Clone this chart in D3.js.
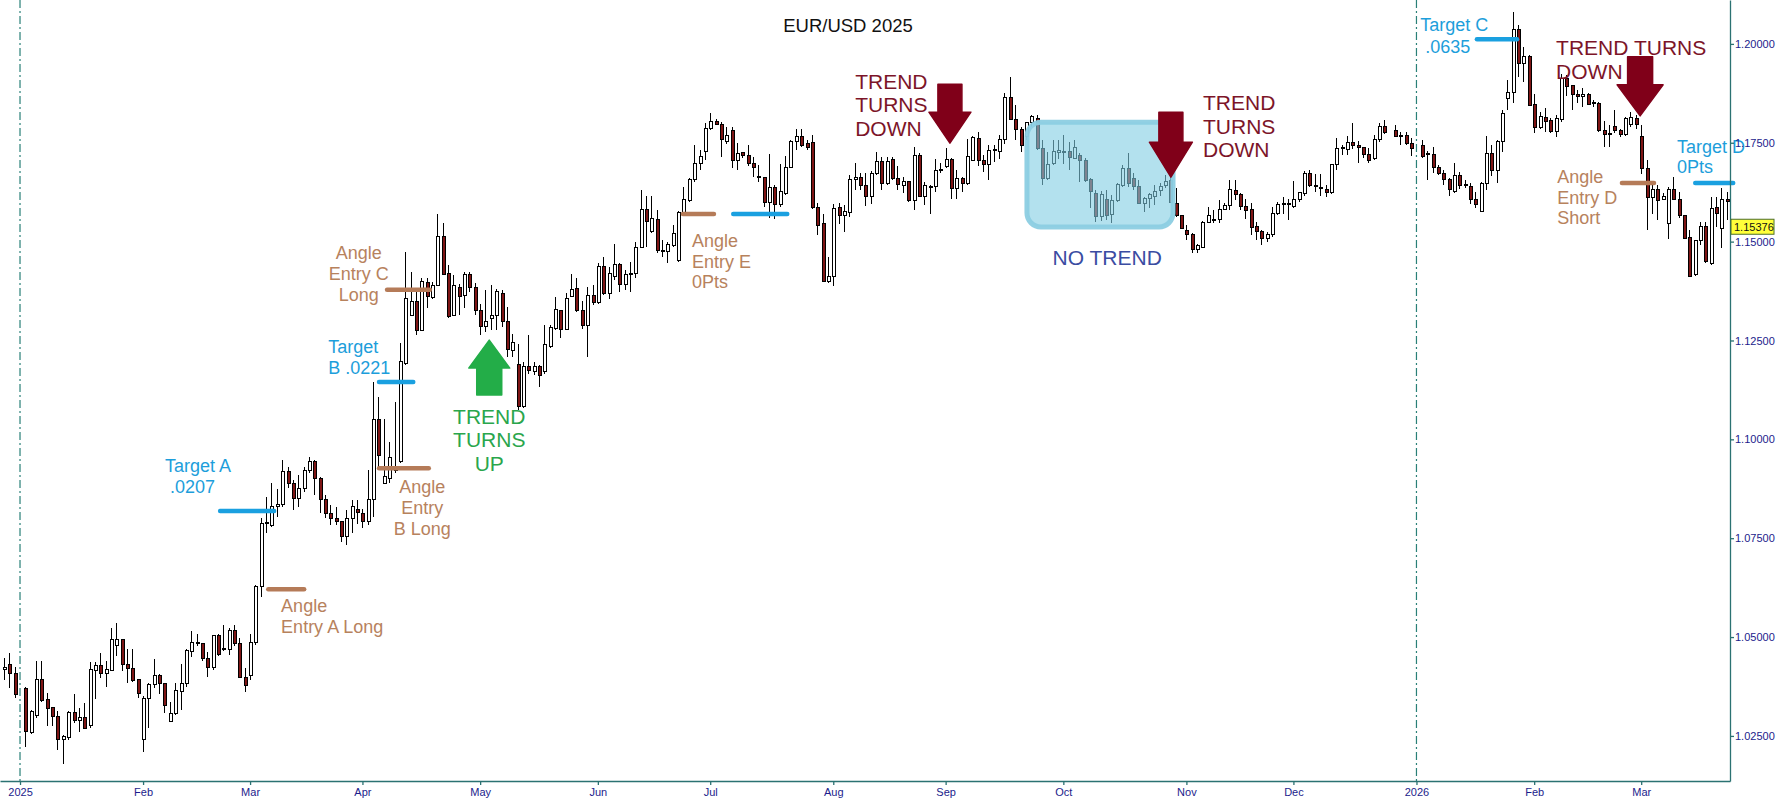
<!DOCTYPE html>
<html>
<head>
<meta charset="utf-8">
<title>EUR/USD 2025</title>
<script src="https://cdn.jsdelivr.net/npm/d3@7/dist/d3.min.js"></script>
<style>
  body { margin: 0; background: #fff; }
  text { font-family: "Liberation Sans", Arial, sans-serif; white-space: pre; }
</style>
</head>
<body>
<script>
// daily EUR/USD candles, one slot per weekday from 27 Dec 2024 to 24 Mar 2026 (null = no candle)
var opens = [1.0417,1.0430,1.0409,null,1.0371,1.0259,1.0302,1.0392,1.0341,1.0321,1.0300,1.0240,1.0247,
1.0310,1.0289,1.0297,1.0276,1.0415,1.0427,1.0409,1.0415,1.0479,1.0493,
1.0431,1.0421,1.0392,1.0242,1.0345,1.0381,1.0403,1.0383,1.0286,1.0307,
1.0362,1.0383,1.0463,1.0485,1.0484,1.0446,1.0423,1.0503,1.0468,1.0469,
1.0516,1.0484,1.0398,1.0402,1.0486,1.0627,1.0787,1.0783,1.0830,1.0834,
1.0918,1.0889,1.0851,1.0876,1.0922,1.0943,1.0901,1.0849,1.0813,1.0800,
1.0792,1.0754,1.0800,1.0823,1.0813,1.0792,1.0848,1.1050,1.0889,1.0901,
1.0924,1.0943,1.1192,1.1314,1.1348,1.1276,1.1397,1.1358,1.1390,1.1514,
1.1420,1.1314,1.1384,1.1365,1.1418,1.1384,1.1327,1.1285,1.1306,1.1314,
1.1369,1.1297,1.1224,1.1188,1.1082,1.1185,1.1171,1.1185,1.1171,1.1236,
1.1280,1.1325,1.1278,1.1360,1.1381,1.1327,1.1289,1.1365,1.1345,1.1438,
1.1369,1.1411,1.1443,1.1392,1.1418,1.1419,1.1485,1.1580,1.1525,1.1556,
1.1478,1.1474,1.1489,1.1451,1.1574,1.1605,1.1656,1.1698,1.1727,1.1786,
1.1803,1.1797,1.1753,1.1780,1.1706,1.1725,1.1719,1.1698,1.1664,1.1662,
1.1599,1.1637,1.1595,1.1622,1.1688,1.1753,1.1765,1.1747,1.1751,1.1587,
1.1545,1.1399,1.1411,1.1587,1.1567,1.1573,1.1656,1.1662,1.1641,1.1615,
1.1673,1.1702,1.1647,1.1708,1.1660,1.1643,1.1652,1.1603,1.1719,1.1614,
1.1640,1.1639,1.1681,1.1690,1.1708,1.1635,1.1660,1.1647,1.1706,1.1761,
1.1706,1.1694,1.1733,1.1727,1.1757,1.1865,1.1810,1.1784,1.1765,1.1802,
1.1812,1.1736,1.1660,1.1698,1.1725,1.1727,1.1727,1.1711,1.1719,1.1706,
1.1656,1.1622,1.1563,1.1607,1.1569,1.1603,1.1643,1.1685,1.1660,1.1639,
1.1597,1.1609,1.1615,1.1628,1.1643,1.1655,1.1597,1.1565,1.1529,1.1519,
1.1480,1.1485,1.1548,1.1556,1.1555,1.1581,1.1592,1.1630,1.1618,1.1590,
1.1580,1.1538,1.1525,1.1508,1.1519,1.1570,1.1595,1.1596,1.1588,1.1607,
1.1622,1.1671,1.1643,1.1637,1.1632,1.1624,1.1694,1.1736,1.1732,1.1750,
1.1744,1.1738,1.1721,1.1711,1.1757,1.1792,null,1.1780,1.1765,1.1769,
1.1747,null,1.1742,1.1722,1.1721,1.1688,1.1673,1.1658,1.1626,1.1666,
1.1643,1.1639,1.1607,1.1576,1.1647,1.1723,1.1679,1.1753,1.1862,1.1877,
1.2037,1.1951,1.1968,1.1848,1.1789,1.1814,1.1806,1.1778,1.1808,1.1913,
1.1894,1.1871,1.1867,1.1872,1.1850,1.1850,1.1781,1.1774,1.1792,1.1782,
1.1770,1.1795,1.1812,1.1767,1.1685,1.1612,1.1632,1.1607,1.1545,1.1632,
1.1607,1.1567,1.1511,1.1416,1.1504,1.1538,1.1445,1.1587,1.1534,1.1607]

var highs = [1.0446,1.0459,1.0425,null,1.0373,1.0316,1.0440,1.0440,1.0358,1.0322,1.0312,1.0252,1.0312,
1.0355,1.0320,1.0333,1.0438,1.0438,1.0459,1.0440,1.0522,1.0535,1.0495,
1.0469,1.0469,1.0392,1.0350,1.0383,1.0445,1.0407,1.0383,1.0337,1.0383,
1.0432,1.0470,1.0516,1.0508,1.0486,1.0463,1.0505,1.0508,1.0531,1.0522,
1.0531,1.0497,1.0421,1.0508,1.0631,1.0800,1.0855,1.0889,1.0874,1.0948,
1.0931,1.0897,1.0910,1.0931,1.0956,1.0948,1.0905,1.0859,1.0834,1.0830,
1.0792,1.0821,1.0846,1.0846,1.0825,1.0922,1.1146,1.1108,1.1052,1.0994,
1.1095,1.1243,1.1474,1.1424,1.1373,1.1407,1.1407,1.1398,1.1571,1.1546,
1.1441,1.1415,1.1394,1.1424,1.1424,1.1396,1.1343,1.1377,1.1390,1.1381,
1.1377,1.1335,1.1266,1.1242,1.1196,1.1263,1.1196,1.1188,1.1289,1.1289,
1.1360,1.1327,1.1369,1.1419,1.1407,1.1350,1.1386,1.1390,1.1446,1.1462,
1.1436,1.1494,1.1445,1.1428,1.1449,1.1499,1.1630,1.1615,1.1615,1.1580,
1.1504,1.1499,1.1542,1.1578,1.1639,1.1662,1.1744,1.1731,1.1799,1.1826,
1.1809,1.1803,1.1790,1.1791,1.1749,1.1727,1.1744,1.1715,1.1694,1.1664,
1.1721,1.1643,1.1696,1.1716,1.1757,1.1786,1.1786,1.1757,1.1770,1.1597,
1.1571,1.1462,1.1595,1.1597,1.1592,1.1668,1.1698,1.1673,1.1673,1.1679,
1.1727,1.1715,1.1715,1.1715,1.1690,1.1664,1.1652,1.1740,1.1723,1.1652,
1.1643,1.1708,1.1698,1.1736,1.1711,1.1681,1.1664,1.1759,1.1767,1.1778,
1.1719,1.1744,1.1744,1.1769,1.1875,1.1917,1.1845,1.1791,1.1803,1.1820,
1.1820,1.1757,1.1727,1.1757,1.1758,1.1769,1.1752,1.1758,1.1723,1.1711,
1.1660,1.1630,1.1629,1.1630,1.1618,1.1647,1.1694,1.1725,1.1673,1.1656,
1.1613,1.1622,1.1643,1.1647,1.1668,1.1668,1.1635,1.1567,1.1542,1.1521,
1.1495,1.1552,1.1588,1.1580,1.1605,1.1597,1.1656,1.1656,1.1622,1.1609,
1.1597,1.1550,1.1529,1.1525,1.1587,1.1601,1.1612,1.1609,1.1654,1.1626,
1.1679,1.1681,1.1671,1.1671,1.1643,1.1696,1.1761,1.1744,1.1767,1.1801,
1.1755,1.1740,1.1738,1.1769,1.1801,1.1807,null,1.1795,1.1778,1.1778,
1.1761,null,1.1757,1.1730,1.1740,1.1694,1.1681,1.1660,1.1698,1.1675,
1.1656,1.1649,1.1626,1.1652,1.1767,1.1744,1.1757,1.1833,1.1909,1.2081,
1.2048,1.1993,1.1972,1.1873,1.1829,1.1837,1.1812,1.1820,1.1924,1.1921,
1.1896,1.1883,1.1888,1.1875,1.1858,1.1854,1.1806,1.1795,1.1833,1.1786,
1.1816,1.1829,1.1820,1.1795,1.1706,1.1643,1.1643,1.1624,1.1639,1.1664,
1.1626,1.1567,1.1529,1.1504,1.1550,1.1550,1.1614,1.1614,1.1635,1.1625]

var lows = [1.0392,1.0371,1.0345,null,1.0223,1.0255,1.0295,1.0335,1.0274,1.0275,1.0215,1.0178,1.0240,
1.0282,1.0261,1.0267,1.0269,1.0343,1.0396,1.0373,1.0413,1.0453,1.0415,
1.0383,1.0387,1.0347,1.0210,1.0271,1.0371,1.0355,1.0307,1.0285,1.0303,
1.0316,1.0373,1.0449,1.0478,1.0440,1.0400,1.0417,1.0452,1.0465,1.0455,
1.0478,1.0398,1.0360,1.0392,1.0480,1.0602,1.0762,1.0779,1.0804,1.0830,
1.0876,1.0821,1.0830,1.0868,1.0914,1.0859,1.0813,1.0800,1.0783,1.0783,
1.0741,1.0733,1.0762,1.0787,1.0775,1.0783,1.0804,1.0931,1.0889,1.0889,
1.0914,1.0939,1.1188,1.1314,1.1264,1.1276,1.1331,1.1356,1.1390,1.1415,
1.1306,1.1314,1.1314,1.1331,1.1373,1.1314,1.1263,1.1272,1.1276,1.1276,
1.1285,1.1209,1.1209,1.1074,1.1078,1.1166,1.1162,1.1133,1.1166,1.1230,
1.1276,1.1255,1.1276,1.1360,1.1322,1.1280,1.1209,1.1339,1.1343,1.1365,
1.1356,1.1403,1.1373,1.1377,1.1373,1.1407,1.1483,1.1487,1.1521,1.1470,
1.1462,1.1445,1.1487,1.1449,1.1574,1.1601,1.1651,1.1681,1.1706,1.1782,
1.1795,1.1715,1.1748,1.1685,1.1681,1.1711,1.1690,1.1664,1.1652,1.1588,
1.1559,1.1556,1.1588,1.1618,1.1685,1.1732,1.1740,1.1732,1.1583,1.1517,
1.1399,1.1396,1.1388,1.1545,1.1525,1.1563,1.1630,1.1630,1.1590,1.1595,
1.1668,1.1630,1.1643,1.1656,1.1630,1.1622,1.1601,1.1580,1.1614,1.1592,
1.1571,1.1626,1.1673,1.1685,1.1609,1.1607,1.1626,1.1643,1.1706,1.1690,
1.1677,1.1657,1.1702,1.1710,1.1748,1.1807,1.1757,1.1727,1.1757,1.1790,
1.1731,1.1643,1.1656,1.1694,1.1710,1.1696,1.1681,1.1709,1.1651,1.1651,
1.1584,1.1550,1.1553,1.1555,1.1548,1.1601,1.1639,1.1639,1.1630,1.1595,
1.1576,1.1584,1.1592,1.1615,1.1635,1.1598,1.1563,1.1531,1.1504,1.1472,
1.1470,1.1485,1.1546,1.1548,1.1546,1.1580,1.1580,1.1605,1.1580,1.1556,
1.1517,1.1504,1.1491,1.1500,1.1512,1.1567,1.1570,1.1555,1.1584,1.1601,
1.1615,1.1637,1.1626,1.1615,1.1613,1.1620,1.1681,1.1719,1.1719,1.1733,
1.1700,1.1711,1.1700,1.1706,1.1753,1.1772,null,1.1765,1.1744,1.1744,
1.1716,null,1.1711,1.1657,1.1673,1.1668,1.1643,1.1615,1.1622,1.1632,
1.1635,1.1595,1.1584,1.1576,1.1630,1.1666,1.1647,1.1727,1.1833,1.1850,
1.1917,1.1904,1.1843,1.1774,1.1784,1.1778,1.1774,1.1765,1.1803,1.1867,
1.1833,1.1850,1.1841,1.1845,1.1841,1.1778,1.1740,1.1740,1.1774,1.1765,
1.1767,1.1791,1.1786,1.1671,1.1529,1.1571,1.1555,1.1607,1.1506,1.1605,
1.1559,1.1508,1.1410,1.1413,1.1491,1.1445,1.1441,1.1538,1.1483,1.1555]

var closes = [1.0423,1.0409,1.0355,null,1.0261,1.0312,1.0392,1.0339,1.0320,1.0299,1.0240,1.0248,1.0310,
1.0289,1.0297,1.0269,1.0419,1.0427,1.0409,1.0417,1.0495,1.0493,1.0431,
1.0421,1.0389,1.0358,1.0345,1.0381,1.0403,1.0383,1.0327,1.0307,1.0364,
1.0383,1.0465,1.0487,1.0486,1.0446,1.0423,1.0503,1.0457,1.0470,1.0516,
1.0484,1.0398,1.0377,1.0486,1.0627,1.0787,1.0790,1.0830,1.0836,1.0918,
1.0889,1.0851,1.0876,1.0922,1.0943,1.0901,1.0849,1.0813,1.0800,1.0792,
1.0754,1.0800,1.0830,1.0815,1.0792,1.0848,1.1050,1.0960,1.0907,1.0955,
1.0922,1.1196,1.1356,1.1348,1.1276,1.1398,1.1361,1.1390,1.1514,1.1418,
1.1310,1.1388,1.1361,1.1418,1.1384,1.1327,1.1285,1.1299,1.1314,1.1373,
1.1297,1.1226,1.1245,1.1082,1.1183,1.1175,1.1183,1.1162,1.1241,1.1282,
1.1328,1.1278,1.1356,1.1379,1.1325,1.1289,1.1365,1.1345,1.1438,1.1369,
1.1419,1.1443,1.1392,1.1418,1.1420,1.1485,1.1580,1.1550,1.1559,1.1477,
1.1477,1.1493,1.1521,1.1574,1.1607,1.1657,1.1698,1.1715,1.1786,1.1803,
1.1797,1.1757,1.1769,1.1706,1.1723,1.1719,1.1698,1.1688,1.1665,1.1599,
1.1637,1.1595,1.1626,1.1688,1.1753,1.1765,1.1744,1.1738,1.1587,1.1542,
1.1399,1.1413,1.1584,1.1567,1.1575,1.1658,1.1662,1.1641,1.1615,1.1673,
1.1702,1.1647,1.1702,1.1660,1.1645,1.1652,1.1603,1.1719,1.1615,1.1641,
1.1639,1.1681,1.1683,1.1708,1.1635,1.1660,1.1647,1.1716,1.1763,1.1705,
1.1694,1.1731,1.1734,1.1758,1.1865,1.1810,1.1784,1.1744,1.1802,1.1816,
1.1736,1.1660,1.1696,1.1727,1.1731,1.1728,1.1713,1.1738,1.1706,1.1654,
1.1626,1.1563,1.1620,1.1567,1.1605,1.1645,1.1685,1.1647,1.1639,1.1597,
1.1609,1.1618,1.1626,1.1640,1.1651,1.1600,1.1565,1.1534,1.1517,1.1480,
1.1491,1.1548,1.1565,1.1557,1.1582,1.1592,1.1632,1.1618,1.1590,1.1578,
1.1536,1.1525,1.1508,1.1519,1.1570,1.1595,1.1596,1.1595,1.1607,1.1624,
1.1671,1.1641,1.1639,1.1638,1.1624,1.1694,1.1736,1.1737,1.1750,1.1744,
1.1738,1.1721,1.1705,1.1757,1.1792,1.1775,null,1.1767,1.1769,1.1747,
1.1736,null,1.1716,1.1721,1.1688,1.1673,1.1656,1.1632,1.1666,1.1641,
1.1644,1.1607,1.1595,1.1647,1.1723,1.1679,1.1753,1.1824,1.1877,1.2037,
1.1951,1.1968,1.1845,1.1789,1.1816,1.1803,1.1778,1.1812,1.1913,1.1892,
1.1871,1.1867,1.1871,1.1848,1.1851,1.1781,1.1770,1.1773,1.1782,1.1770,
1.1812,1.1814,1.1795,1.1685,1.1612,1.1632,1.1605,1.1615,1.1632,1.1607,
1.1567,1.1508,1.1413,1.1504,1.1538,1.1449,1.1584,1.1570,1.1607,1.1602]

var monthLabels = ['2025','Feb','Mar','Apr','May','Jun','Jul','Aug','Sep','Oct','Nov','Dec','2026','Feb','Mar']
var priceTicks = [1.025, 1.05, 1.075, 1.1, 1.125, 1.15, 1.175, 1.2]
var lastPrice = 1.15376

// x positions are trading-day numbers, 0 = 1 Jan 2025
var targetLevels = [1.0819, 1.1145, 1.1570, 1.2012, 1.1648]
var targetSpans = [[37.4, 47.5], [67.1, 73.5], [133.3, 143.4], [272.3, 279.8], [313.1, 320.2]]
var entryLevels = [1.0621, 1.0927, 1.1378, 1.1570, 1.1648]
var entrySpans = [[46.4, 53.1], [67.1, 76.4], [68.6, 76.6], [123.9, 129.7], [299.4, 305.4]]

var blue = '#1d9edb', brown = '#b7825d', darkRed = '#7c1428', green = '#2aa64c'

var notes = [
    { lines: ['Target A', ' .0207'], i: 27.1, p: 1.0917, anchor: 'start', color: blue, size: 18, lh: 21 },
    { lines: ['Target', 'B .0221'], i: 57.6, p: 1.1218, anchor: 'start', color: blue, size: 18, lh: 21 },
    { lines: ['Angle', 'Entry C', 'Long'], i: 63.3, p: 1.1456, anchor: 'middle', color: brown, size: 18, lh: 21 },
    { lines: ['Angle', 'Entry', 'B Long'], i: 75.2, p: 1.0864, anchor: 'middle', color: brown, size: 18, lh: 21 },
    { lines: ['Angle', 'Entry A Long'], i: 48.8, p: 1.0563, anchor: 'start', color: brown, size: 18, lh: 21 },
    { lines: ['TREND', 'TURNS', 'UP'], i: 87.7, p: 1.1039, anchor: 'middle', color: green, size: 21, lh: 23.5 },
    { lines: ['Angle', 'Entry E', '0Pts'], i: 125.6, p: 1.1486, anchor: 'start', color: brown, size: 18, lh: 20.5 },
    { lines: ['TREND', 'TURNS', 'DOWN'], i: 156.1, p: 1.1887, anchor: 'start', color: darkRed, size: 21, lh: 23.5 },
    { lines: ['NO TREND'], i: 203.2, p: 1.1442, anchor: 'middle', color: '#3a4ca2', size: 21, lh: 0 },
    { lines: ['TREND', 'TURNS', 'DOWN'], i: 221.1, p: 1.1832, anchor: 'start', color: darkRed, size: 21, lh: 23.5 },
    { lines: ['Target C', ' .0635'], i: 261.7, p: 1.2033, anchor: 'start', color: blue, size: 18, lh: 22 },
    { lines: ['TREND TURNS', 'DOWN'], i: 287.1, p: 1.1973, anchor: 'start', color: darkRed, size: 21, lh: 24 },
    { lines: ['Target D', '0Pts'], i: 309.7, p: 1.1724, anchor: 'start', color: blue, size: 18, lh: 20 },
    { lines: ['Angle', 'Entry D', 'Short'], i: 287.3, p: 1.1648, anchor: 'start', color: brown, size: 18, lh: 20.5 }
]

var arrows = [
    { i: 87.7, p: 1.1251, up: true, color: '#23ad48', headH: 28, headW: 20.5, shaftW: 12.5, shaftL: 27 },
    { i: 173.8, p: 1.1749, up: false, color: '#800019', headH: 31, headW: 21, shaftW: 12, shaftL: 28 },
    { i: 215.1, p: 1.1663, up: false, color: '#800019', headH: 35, headW: 21.5, shaftW: 12, shaftL: 30 },
    { i: 302.8, p: 1.1818, up: false, color: '#800019', headH: 31, headW: 23, shaftW: 12.5, shaftL: 28 }
]

var noTrendBox = { i0: 188.2, i1: 215.5, p0: 1.1802, p1: 1.1537 }

var W = 1787, H = 811
var plotRight = 1730, plotBottom = 781

var days = d3.timeDay.range(new Date(2024, 11, 27), new Date(2026, 2, 25))
    .filter(function (d) { return d.getDay() % 6 !== 0 })
var offset = days.findIndex(function (d) { return d >= new Date(2025, 0, 1) })

var candles = days.map(function (d, j) {
    return { date: d, i: j - offset, o: opens[j], h: highs[j], l: lows[j], c: closes[j] }
}).filter(function (d) { return d.o != null })

var monthIdx = []
days.forEach(function (d, j) {
    if (j > 0 && d.getMonth() !== days[j - 1].getMonth()) monthIdx.push(j - offset)
})

var xScale = d3.scaleLinear().domain([-3.74, 319.6]).range([0, plotRight])
var yScale = d3.scaleLinear().domain([1.0136, 1.2111]).range([plotBottom, 0])

var svg = d3.select('body').append('svg')
    .attr('width', W)
    .attr('height', H)
    .style('display', 'block')

svg.append('rect').attr('width', W).attr('height', H).attr('fill', '#fff')

// year separators
svg.selectAll('line.year')
    .data(monthIdx.filter(function (d, k) { return /^\d{4}$/.test(monthLabels[k]) }))
    .enter().append('line')
    .attr('class', 'year')
    .attr('x1', function (d) { return xScale(d) })
    .attr('x2', function (d) { return xScale(d) })
    .attr('y1', 0)
    .attr('y2', plotBottom)
    .attr('stroke', '#2a8078')
    .attr('stroke-width', 1.2)
    .attr('stroke-dasharray', '8,3,2,3')

// candles
var cg = svg.append('g').attr('shape-rendering', 'crispEdges')
var cand = cg.selectAll('g').data(candles).enter().append('g')

cand.append('line')
    .attr('x1', function (d) { return Math.round(xScale(d.i)) + 0.5 })
    .attr('x2', function (d) { return Math.round(xScale(d.i)) + 0.5 })
    .attr('y1', function (d) { return yScale(d.h) })
    .attr('y2', function (d) { return yScale(d.l) })
    .attr('stroke', '#000')
    .attr('stroke-width', 1)

cand.append('rect')
    .attr('x', function (d) { return Math.round(xScale(d.i)) - 1 })
    .attr('width', 3)
    .attr('y', function (d) { return yScale(Math.max(d.o, d.c)) })
    .attr('height', function (d) { return Math.max(1, Math.abs(yScale(d.o) - yScale(d.c))) })
    .attr('fill', function (d) { return d.c >= d.o ? '#fff' : '#7e1515' })
    .attr('stroke', '#000')
    .attr('stroke-width', 1)

// no trend zone
svg.append('rect')
    .attr('x', xScale(noTrendBox.i0))
    .attr('y', yScale(noTrendBox.p0))
    .attr('width', xScale(noTrendBox.i1) - xScale(noTrendBox.i0))
    .attr('height', yScale(noTrendBox.p1) - yScale(noTrendBox.p0))
    .attr('rx', 14)
    .attr('fill', 'rgba(128,205,226,0.6)')
    .attr('stroke', 'rgba(140,206,226,0.95)')
    .attr('stroke-width', 5)

// entry and target levels
function levelLines(levels, spans, color) {
    svg.append('g').selectAll('line')
        .data(levels)
        .enter().append('line')
        .attr('x1', function (d, k) { return xScale(spans[k][0]) })
        .attr('x2', function (d, k) { return xScale(spans[k][1]) })
        .attr('y1', function (d) { return yScale(d) })
        .attr('y2', function (d) { return yScale(d) })
        .attr('stroke', color)
        .attr('stroke-width', 4.5)
        .attr('stroke-linecap', 'round')
}
levelLines(targetLevels, targetSpans, '#1aa0e0')
levelLines(entryLevels, entrySpans, '#b57b58')

// arrows
svg.append('g').selectAll('path')
    .data(arrows)
    .enter().append('path')
    .attr('d', function (a) {
        var tx = xScale(a.i), ty = yScale(a.p), s = a.up ? 1 : -1
        var base = ty + s * a.headH, end = base + s * a.shaftL
        return 'M' + tx + ',' + ty +
            'L' + (tx + a.headW) + ',' + base +
            'L' + (tx + a.shaftW) + ',' + base +
            'L' + (tx + a.shaftW) + ',' + end +
            'L' + (tx - a.shaftW) + ',' + end +
            'L' + (tx - a.shaftW) + ',' + base +
            'L' + (tx - a.headW) + ',' + base + 'Z'
    })
    .attr('fill', function (a) { return a.color })
    .attr('stroke', function (a) { return a.color })
    .attr('stroke-width', 1.5)
    .attr('stroke-linejoin', 'round')

// annotations
notes.forEach(function (n) {
    var t = svg.append('text')
        .attr('x', xScale(n.i))
        .attr('y', yScale(n.p))
        .attr('text-anchor', n.anchor)
        .attr('fill', n.color)
        .attr('font-size', n.size)
    n.lines.forEach(function (s, k) {
        t.append('tspan')
            .attr('x', xScale(n.i))
            .attr('dy', k === 0 ? 0 : n.lh)
            .text(s)
    })
})

// title
svg.append('text')
    .attr('x', 848)
    .attr('y', 31.5)
    .attr('text-anchor', 'middle')
    .attr('font-size', 18.5)
    .attr('fill', '#111')
    .text('EUR/USD 2025')

// axes
var xAxis = d3.axisBottom(xScale)
    .tickValues(monthIdx)
    .tickFormat(function (d, k) { return monthLabels[k] })
    .tickSize(4)
    .tickSizeOuter(0)
    .tickPadding(3)

var yAxis = d3.axisRight(yScale)
    .tickValues(priceTicks)
    .tickFormat(d3.format('.5f'))
    .tickSize(4)
    .tickSizeOuter(0)
    .tickPadding(1)

var gx = svg.append('g')
    .attr('transform', 'translate(0,' + plotBottom + ')')
    .call(xAxis)

var gy = svg.append('g')
    .attr('transform', 'translate(' + plotRight + ',0)')
    .call(yAxis)

svg.selectAll('.domain, .tick line').attr('stroke', '#2b7272').attr('stroke-width', 1.3)
svg.selectAll('.tick text')
    .attr('fill', '#1c1c8c')
    .attr('font-size', 11)
    .attr('font-family', '"Liberation Sans", Arial, sans-serif')

// last price tag
var ly = yScale(lastPrice)
svg.append('rect')
    .attr('x', plotRight + 1)
    .attr('y', ly - 7.5)
    .attr('width', 43)
    .attr('height', 15)
    .attr('fill', '#ffff3a')
    .attr('stroke', '#4d6e2a')
    .attr('stroke-width', 1)
svg.append('text')
    .attr('x', plotRight + 4)
    .attr('y', ly + 4)
    .attr('font-size', 11)
    .attr('fill', '#111')
    .text(d3.format('.5f')(lastPrice))
</script>
</body>
</html>
